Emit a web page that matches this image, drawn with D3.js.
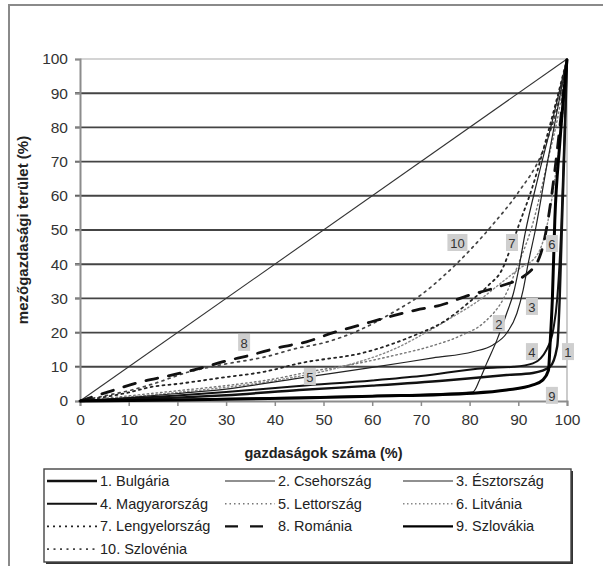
<!DOCTYPE html>
<html>
<head>
<meta charset="utf-8">
<script src="https://cdn.jsdelivr.net/npm/d3@7"></script>
<style>
  body { margin: 0; background: #fff; }
  svg { display: block; font-family: "Liberation Sans", Arial, sans-serif; }
</style>
</head>
<body>
<svg id="chart" width="603" height="566"></svg>
<script>
// tick values and country names
var ticks = [0, 10, 20, 30, 40, 50, 60, 70, 80, 90, 100];
var countries = ["1. Bulgária", "2. Csehország", "3. Észtország", "4. Magyarország", "5. Lettország",
                 "6. Litvánia", "7. Lengyelország", "8. Románia", "9. Szlovákia", "10. Szlovénia"];

// Lorenz curves: [share of farms %, share of land %]
var bulgaria = [[0,0],[10,0.5],[20,1],[30,1.7],[45,3.2],[60,4.5],[75,6],[87.6,7.6],[93,8.2],[96.5,10],[98,16],[98.5,30],[99,53],[99.5,75],[100,100]];
var csehorszag = [[0,0],[20,0.5],[40,1],[60,1.6],[80.7,2.7],[82,6],[83.5,11],[85.6,17.8],[87.6,25.6],[89,31.5],[90,38],[91.4,49],[94,65],[97,82],[100,100]];
var esztorszag = [[0,0],[10,1],[20,2.2],[30,3.5],[45,6.7],[59,9.6],[72.5,12.6],[80.7,14.4],[84.8,16.4],[87.6,19.8],[89.7,25.6],[91,32.5],[92,40],[93.5,50],[96,70],[100,100]];
var magyarorszag = [[0,0],[10,0.8],[20,1.6],[30,2.6],[45,4.4],[60,6],[70,7.3],[83,9.6],[89,10],[93,11],[95.8,15],[97.2,21],[98,30],[98.8,50],[99.4,75],[100,100]];
var lettorszag = [[0,0],[10,1.5],[20,3],[30,4.5],[40,6.5],[47,8.5],[57,11],[65,13.5],[72,16],[78,19],[83,23],[87,30],[90,40],[93,52],[96,70],[98.5,86],[100,100]];
var litvania = [[0,0],[20,2.5],[40,6],[55,10.5],[65,15.5],[71,20],[77,25],[82,29.5],[86,34],[90,38.5],[94,43],[96,52],[97.5,65],[99,82],[100,100]];
var lengyelorszag = [[0,0],[10,2.5],[15,4.2],[20,5],[30,7],[38,8.6],[45,11],[59,14.4],[68,18.8],[75,23.5],[80,29],[84,34],[86.5,38],[88.5,45],[90,51],[93,63],[96,78],[100,100]];
var romania = [[0,0],[7,3.2],[12,5.4],[18,7.3],[24,9.3],[29.4,11.5],[35,13.4],[41,15.7],[46.5,17.3],[52,20],[57.5,22.2],[63.7,24.7],[69,26.6],[74,28],[80,31],[85,33],[92.5,38],[95,45],[100,100]];
var szlovakia = [[0,0],[20,0.3],[45,0.9],[60,1.4],[80.7,2.3],[87.6,3.2],[93,4.7],[95,6.1],[96.2,9],[96.5,16],[97,30],[97.5,53],[98.5,75],[100,100]];
var szlovenia = [[0,0],[5,1.5],[10,3],[15,5],[22.6,8.6],[28.7,10.5],[38.3,13],[44.5,15.4],[50,17],[57,20.5],[65,26.5],[70,31],[75,37],[80,44],[85,52],[90,61],[95,73],[98,86],[100,100]];
var equality = [[0,0],[100,100]];

// numbered tags placed in the plot (data coordinates)
var tagText = ["1","2","3","4","5","6","7","8","9","10"];
var tagAt = [[100.2,14.3],[86,22.5],[92.8,27.5],[92.8,14.3],[47.2,7],[96.9,45.9],[88.7,46.2],[33.7,17],[96.9,1.5],[77.5,46.2]];

var series = [bulgaria, csehorszag, esztorszag, magyarorszag, lettorszag,
              litvania, lengyelorszag, romania, szlovakia, szlovenia];

// line styles per series
var styles = [
    {c: "#111", w: 2.4, d: null},
    {c: "#222", w: 1.2, d: null},
    {c: "#222", w: 1.2, d: null},
    {c: "#111", w: 2, d: null},
    {c: "#777", w: 1.4, d: "1.5,3"},
    {c: "#888", w: 1.4, d: "1.5,2.5"},
    {c: "#222", w: 1.8, d: "2,4"},
    {c: "#111", w: 2.8, d: "12,11"},
    {c: "#000", w: 3, d: null},
    {c: "#444", w: 1.7, d: "2,4.5"}
];
var drawOrder = [4, 5, 9, 6, 7, 1, 2, 3, 0, 8];

var svg = d3.select("#chart");

// outer frame
svg.append("rect")
    .attr("x", 9).attr("y", 5)
    .attr("width", 640).attr("height", 620)
    .attr("fill", "none").attr("stroke", "#8a8a8a").attr("stroke-width", 2);

var x = d3.scaleLinear().domain([0, 100]).range([80, 567]);
var y = d3.scaleLinear().domain([0, 100]).range([401, 59]);

// grid
svg.append("g")
    .selectAll("line")
    .data(ticks.filter(function(t) { return t > 0 && t < 100; }))
    .enter().append("line")
    .attr("x1", x(0) - 5).attr("x2", x(100))
    .attr("y1", function(d) { return y(d); })
    .attr("y2", function(d) { return y(d); })
    .attr("stroke", "#444").attr("stroke-width", 1.9);

// plot border top / right
svg.append("path")
    .attr("d", "M" + x(0) + "," + y(100) + "H" + x(100) + "V" + y(0))
    .attr("fill", "none").attr("stroke", "#aaa").attr("stroke-width", 1.2);

// axes
var yAxis = d3.axisLeft(y).tickValues(ticks).tickSize(5).tickPadding(7);
var xAxis = d3.axisBottom(x).tickValues(ticks).tickSize(5).tickPadding(8);

var gy = svg.append("g").attr("transform", "translate(" + x(0) + ",0)").call(yAxis);
var gx = svg.append("g").attr("transform", "translate(0," + y(0) + ")").call(xAxis);

[gx, gy].forEach(function(g) {
    g.select(".domain").attr("stroke", "#8c8c8c").attr("stroke-width", 2);
    g.selectAll(".tick line").attr("stroke", "#8c8c8c").attr("stroke-width", 1.5);
    g.selectAll(".tick text")
        .attr("font-family", "'Liberation Sans', Arial, sans-serif")
        .attr("font-size", 15.5).attr("fill", "#333");
});

// diagonal
var line = d3.line()
    .x(function(d) { return x(d[0]); })
    .y(function(d) { return y(d[1]); });

svg.append("path")
    .datum(equality)
    .attr("d", line)
    .attr("fill", "none").attr("stroke", "#333").attr("stroke-width", 1.1);

var curve = d3.line()
    .x(function(d) { return x(d[0]); })
    .y(function(d) { return y(d[1]); })
    .curve(d3.curveMonotoneX);

var plot = svg.append("g").attr("class", "curves");
drawOrder.forEach(function(i) {
    plot.append("path")
        .datum(series[i])
        .attr("d", curve)
        .attr("fill", "none")
        .attr("stroke", styles[i].c)
        .attr("stroke-width", styles[i].w)
        .attr("stroke-dasharray", styles[i].d)
        .attr("stroke-linecap", styles[i].d ? "round" : "butt");
});

// numbered tags
var tags = svg.append("g");
tagText.forEach(function(t, i) {
    var g = tags.append("g")
        .attr("transform", "translate(" + x(tagAt[i][0]) + "," + y(tagAt[i][1]) + ")");
    var w = t.length > 1 ? 20 : 12;
    g.append("rect")
        .attr("x", -w / 2).attr("y", -9)
        .attr("width", w).attr("height", 17)
        .attr("fill", "#cfcfcf");
    g.append("text")
        .attr("text-anchor", "middle")
        .attr("y", 5)
        .attr("font-size", 13)
        .attr("fill", "#333")
        .text(t);
});

// axis titles
svg.append("text")
    .attr("x", x(50)).attr("y", 458)
    .attr("text-anchor", "middle")
    .attr("font-size", 14.5).attr("font-weight", "bold").attr("fill", "#222")
    .text("gazdaságok száma (%)");

svg.append("text")
    .attr("transform", "translate(28," + y(50) + ") rotate(-90)")
    .attr("text-anchor", "middle")
    .attr("font-size", 15).attr("font-weight", "bold").attr("fill", "#222")
    .text("mezőgazdasági terület (%)");

// legend
var legend = svg.append("g");
legend.append("rect")
    .attr("x", 46).attr("y", 471).attr("width", 527).attr("height", 93)
    .attr("fill", "#333");
legend.append("rect")
    .attr("x", 44).attr("y", 469).attr("width", 527).attr("height", 93)
    .attr("fill", "#fff").attr("stroke", "#444").attr("stroke-width", 1.4);

countries.forEach(function(name, i) {
    var col = i % 3, row = Math.floor(i / 3);
    var lx = 47 + col * 178, ly = 481 + row * 22.7;
    legend.append("line")
        .attr("x1", lx).attr("x2", lx + 50)
        .attr("y1", ly).attr("y2", ly)
        .attr("stroke", styles[i].c)
        .attr("stroke-width", Math.min(styles[i].w, 2.4))
        .attr("stroke-dasharray", i === 7 ? "13,12" : styles[i].d)
        .attr("stroke-linecap", "butt");
    legend.append("text")
        .attr("x", lx + 53).attr("y", ly + 5)
        .attr("font-size", 14.5).attr("fill", "#222")
        .text(name);
});
</script>
</body>
</html>
